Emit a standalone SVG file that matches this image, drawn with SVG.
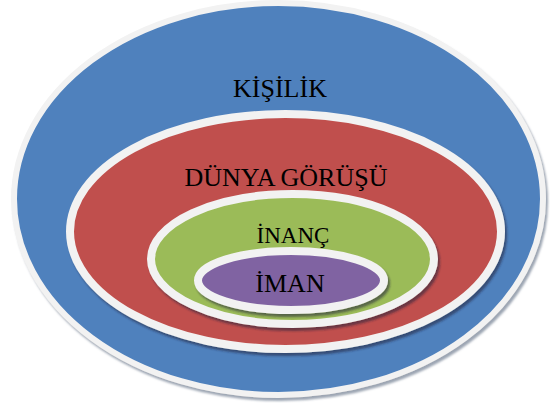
<svg xmlns="http://www.w3.org/2000/svg" width="550" height="410" viewBox="0 0 550 410">
  <defs>
    <filter id="sh" x="-10%" y="-10%" width="125%" height="130%">
      <feDropShadow dx="2" dy="3" stdDeviation="1.2" flood-color="#1a1a3a" flood-opacity="0.55"/>
    </filter>
    <filter id="shOuter" x="-10%" y="-10%" width="125%" height="130%">
      <feDropShadow dx="2" dy="3" stdDeviation="1" flood-color="#5a6a80" flood-opacity="0.6"/>
    </filter>
  </defs>
  <style>
    .ring { stroke: #F2F2F2; }
    .lbl { font-family: "Liberation Serif", "Times New Roman", serif; fill: #000; text-anchor: middle; }
  </style>
  <rect width="550" height="410" fill="#fff"/>
  <g id="kisilik">
    <ellipse class="ring" cx="278.5" cy="199" rx="264.5" ry="196" fill="#4F81BD" stroke-width="6" filter="url(#shOuter)"/>
    <text class="lbl" x="280" y="97" font-size="26">KİŞİLİK</text>
  </g>
  <g id="dunya-gorusu">
    <ellipse class="ring" cx="285.5" cy="231.5" rx="215.5" ry="117.5" fill="#C0504D" stroke-width="8" filter="url(#sh)"/>
    <text class="lbl" x="286" y="186" font-size="26">DÜNYA GÖRÜŞÜ</text>
  </g>
  <g id="inanc">
    <ellipse class="ring" cx="292.5" cy="259" rx="141.5" ry="65" fill="#9BBB59" stroke-width="8" filter="url(#sh)"/>
    <text class="lbl" x="293" y="243" font-size="23">İNANÇ</text>
  </g>
  <g id="iman">
    <ellipse class="ring" cx="291" cy="280.5" rx="93" ry="29.5" fill="#8064A2" stroke-width="8" filter="url(#sh)"/>
    <text class="lbl" x="290" y="292" font-size="26">İMAN</text>
  </g>
  <g id="connectors"/>
</svg>
